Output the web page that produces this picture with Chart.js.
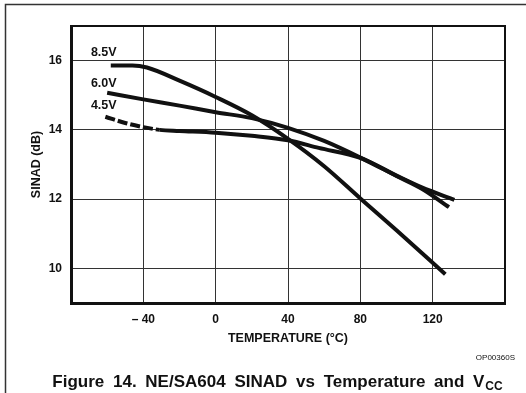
<!DOCTYPE html>
<html>
<head>
<meta charset="utf-8">
<script src="https://cdn.jsdelivr.net/npm/chart.js@4/dist/chart.umd.min.js"></script>
<style>
  html, body { margin: 0; padding: 0; background: #fff; }
  #sinadChart { display: block; }
</style>
</head>
<body>
<canvas id="sinadChart" width="526" height="393"></canvas>
<script>
// SINAD (dB) vs temperature (°C) for three supply voltages
const temps85 = [-58, -46, -38, -20, 0, 20, 40, 60, 80, 100, 127];
const sinad85 = [15.86, 15.86, 15.80, 15.42, 14.95, 14.42, 13.74, 12.95, 12.02, 11.10, 9.83];

const temps60 = [-60, -40, -20, 0, 20, 40, 60, 80, 100, 114, 129];
const sinad60 = [15.07, 14.88, 14.70, 14.51, 14.34, 14.06, 13.68, 13.20, 12.67, 12.30, 11.77];

const temps45 = [-61, -50, -40, -31, -20, 0, 20, 40, 57, 80, 100, 114, 132];
const sinad45 = [14.38, 14.20, 14.08, 14.00, 13.97, 13.92, 13.83, 13.70, 13.48, 13.19, 12.68, 12.34, 11.98];

// below this temperature the 4.5V curve is dashed
const dashedBelow45 = -31;

const xTicks = [-40, 0, 40, 80, 120];
const yTicks = [10, 12, 14, 16];

const curveNames = ["8.5V", "6.0V", "4.5V"];
// where each curve name sits, in temperature / dB
const curveLabelAt = [[-69, 16.14], [-69, 15.25], [-69, 14.6]];

const FONT = "'Liberation Sans', Arial, Helvetica, sans-serif";
const INK = "#111";

const toPoints = (xs, ys) => xs.map((x, i) => ({ x, y: ys[i] }));

const curveStyle = {
  borderColor: INK,
  borderWidth: 4,
  pointRadius: 0,
  fill: false,
  cubicInterpolationMode: "monotone",
  borderCapStyle: "butt"
};

const textPlugin = {
  id: "figureText",
  afterDraw(chart) {
    const { ctx, chartArea: a, scales: { x, y } } = chart;
    ctx.save();

    // top and right edges of the plot frame
    ctx.strokeStyle = INK;
    ctx.lineWidth = 2;
    ctx.beginPath();
    ctx.moveTo(a.left, a.top);
    ctx.lineTo(a.right, a.top);
    ctx.lineTo(a.right, a.bottom);
    ctx.stroke();

    // page rule along the top and left
    ctx.strokeStyle = "#333";
    ctx.lineWidth = 1.5;
    ctx.beginPath();
    ctx.moveTo(526, 4.5);
    ctx.lineTo(5.5, 4.5);
    ctx.lineTo(5.5, 393);
    ctx.stroke();

    // curve names
    ctx.fillStyle = INK;
    ctx.font = "bold 12.5px " + FONT;
    ctx.textAlign = "left";
    ctx.textBaseline = "alphabetic";
    curveNames.forEach((name, i) => {
      const [t, db] = curveLabelAt[i];
      ctx.fillText(name, x.getPixelForValue(t), y.getPixelForValue(db));
    });

    // drawing number
    ctx.font = "8px " + FONT;
    ctx.textAlign = "right";
    ctx.fillText("OP00360S", 515, 360);

    // caption with subscript
    const main = "Figure 14. NE/SA604 SINAD vs Temperature and V";
    const sub = "CC";
    ctx.font = "bold 17px " + FONT;
    ctx.wordSpacing = "4px";
    const wMain = ctx.measureText(main).width;
    ctx.font = "bold 12px " + FONT;
    const wSub = ctx.measureText(sub).width;
    const startX = 277 - (wMain + wSub) / 2;
    ctx.textAlign = "left";
    ctx.font = "bold 17px " + FONT;
    ctx.fillText(main, startX, 387);
    ctx.font = "bold 12px " + FONT;
    ctx.fillText(sub, startX + wMain + 1, 390);

    ctx.restore();
  }
};

new Chart(document.getElementById("sinadChart"), {
  type: "line",
  data: {
    datasets: [
      { label: "8.5V", data: toPoints(temps85, sinad85), ...curveStyle },
      { label: "6.0V", data: toPoints(temps60, sinad60), ...curveStyle },
      {
        label: "4.5V",
        data: toPoints(temps45, sinad45),
        ...curveStyle,
        segment: {
          borderDash: c => (c.p1.parsed.x <= dashedBelow45 ? [10, 3] : undefined)
        }
      }
    ]
  },
  options: {
    responsive: false,
    animation: false,
    layout: { padding: { top: 26, right: 21, left: 0, bottom: 0 } },
    plugins: {
      legend: { display: false },
      tooltip: { enabled: false },
      title: { display: false }
    },
    scales: {
      x: {
        type: "linear",
        min: -80,
        max: 160,
        afterBuildTicks: s => { s.ticks = xTicks.map(v => ({ value: v })); },
        afterFit: s => { s.height = 90; },
        grid: { color: "#333", lineWidth: 1, drawTicks: false },
        border: { color: INK, width: 3 },
        ticks: {
          padding: 9,
          color: INK,
          font: { family: FONT, size: 12, weight: "bold" },
          maxRotation: 0,
          callback: v => (v < 0 ? "\u2013 " + Math.abs(v) : String(v))
        },
        title: {
          display: true,
          text: "TEMPERATURE (°C)",
          color: INK,
          font: { family: FONT, size: 12.5, weight: "bold" },
          padding: { top: 0, bottom: 47 }
        }
      },
      y: {
        min: 9,
        max: 17,
        afterBuildTicks: s => { s.ticks = yTicks.map(v => ({ value: v })); },
        afterFit: s => { s.width = 71; },
        grid: { color: "#333", lineWidth: 1, drawTicks: false },
        border: { color: INK, width: 3 },
        ticks: {
          padding: 9,
          color: INK,
          font: { family: FONT, size: 12, weight: "bold" }
        },
        title: {
          display: true,
          text: "SINAD (dB)",
          color: INK,
          font: { family: FONT, size: 12.5, weight: "bold" },
          padding: { top: 29, bottom: 0 }
        }
      }
    }
  },
  plugins: [textPlugin]
});
</script>
</body>
</html>
